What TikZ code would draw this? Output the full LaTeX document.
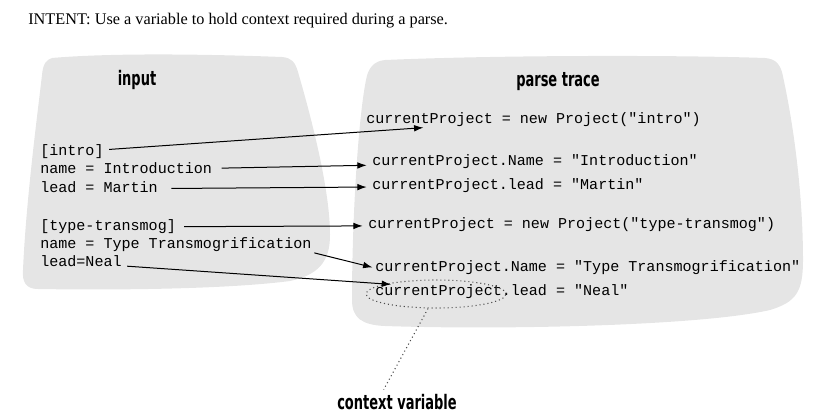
\documentclass[tikz,border=0pt]{standalone}
\usepackage{fontspec}
\setmainfont{Liberation Serif}
\setmonofont{Liberation Mono}
\newfontfamily\handfont[FakeStretch=0.65]{DejaVu Sans}
\usetikzlibrary{positioning, shapes.geometric, arrows.meta}
\definecolor{blobgray}{HTML}{E5E5E5}

\begin{document}
\begin{tikzpicture}[x=0.75pt, y=-0.75pt,
          code/.style={font=\fontsize{11.3}{13}\selectfont\ttfamily, inner sep=0pt,
                       text height=8pt, text depth=2.5pt, anchor=west},
          hand/.style={font=\fontsize{15}{17}\selectfont\handfont\bfseries},
          blob/.style={fill=blobgray, draw=none},
          arrow/.style={-{Latex[length=7pt, width=5pt]}, line width=0.75pt,
                        shorten <=4pt, shorten >=4pt},
          ctxring/.style={ellipse, draw=black!70, line width=0.8pt,
                          dash pattern=on 0.8pt off 2.2pt, minimum width=105pt, minimum height=21pt},
          pointer/.style={draw=black!70, line width=0.8pt, dash pattern=on 0.8pt off 2.2pt}
        ]
        \useasboundingbox (0,0) rectangle (823,415);

        \fill[blob] (52,58) .. controls (120,52) and (230,55) .. (282,57)
              .. controls (292,58) and (295,62) .. (298,72)
              .. controls (312,120) and (330,190) .. (330,235)
              .. controls (330,262) and (318,275) .. (290,281)
              .. controls (220,290) and (100,290) .. (38,289)
              .. controls (26,289) and (22,282) .. (23,270)
              .. controls (26,200) and (38,110) .. (42,75)
              .. controls (43,64) and (46,60) .. (52,58) -- cycle;
        \fill[blob] (385,60) .. controls (500,55) and (680,55) .. (765,58)
              .. controls (775,59) and (779,63) .. (782,72)
              .. controls (795,130) and (803,200) .. (803,260)
              .. controls (803,292) and (796,302) .. (770,310)
              .. controls (700,326) and (500,330) .. (385,326)
              .. controls (362,325) and (352,318) .. (352,300)
              .. controls (352,220) and (358,120) .. (366,80)
              .. controls (368,68) and (374,61) .. (385,60) -- cycle;

        \node[anchor=west, inner sep=0pt, font=\fontsize{12.2}{14}\selectfont] (intent) at (28,21)
             {INTENT: Use a variable to hold context required during a parse.};

        \node[hand] (inhead) at (137,80) {input};
        \node[hand] (trhead) at (558,82) {parse trace};

        \node[code] (in1) at (40,152) {[intro]};
        \node[code] (in2) at (40,170) {name = Introduction};
        \node[code] (in3) at (40,189) {lead = Martin};
        \node[code] (in4) at (40,227) {[type-transmog]};
        \node[code] (in5) at (40,245) {name = Type Transmogrification};
        \node[code] (in6) at (40,263) {lead=Neal};

        \node[code] (tr1) at (366,120) {currentProject = new Project("intro")};
        \node[code] (tr2) at (372,162) {currentProject.Name = "Introduction"};
        \node[code] (tr3) at (372,186) {currentProject.lead = "Martin"};
        \node[code] (tr4) at (368,225) {currentProject = new Project("type-transmog")};
        \node[code] (tr5) at (375,268) {currentProject.Name = "Type Transmogrification"};
        \node[code] (tr6) at (375,292) {currentProject.lead = "Neal"};

        \node[ctxring] (ring) at (436,294) {};
        \node[hand] (ctxvar) at (397,402) {context variable};

        \draw[arrow] (in1) -- (tr1);
        \draw[arrow, shorten <=7pt] (in2) -- (tr2);
        \draw[arrow, shorten <=10pt] (in3) -- (tr3);
        \draw[arrow, shorten <=6pt] (in4) -- (tr4);
        \draw[arrow, shorten <=2pt, shorten >=2pt] (in5.south east) -- (tr5.west);
        \draw[arrow] (in6) -- (tr6);
        \draw[pointer] ([xshift=-6]ring.south) -- ([xshift=-10]ctxvar.north);
      \end{tikzpicture}
\end{document}
